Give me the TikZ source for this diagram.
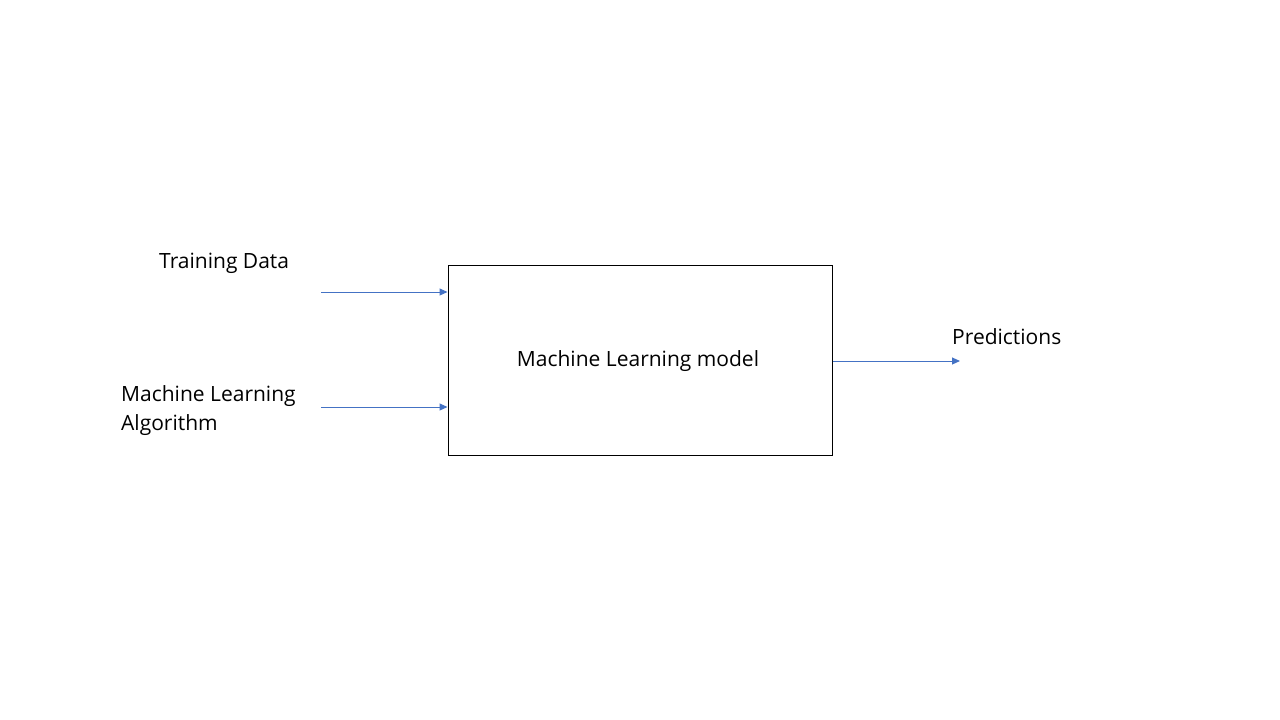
\documentclass[tikz,border=0pt]{standalone}
\usepackage{fontspec}
\setmainfont{Open Sans}
\usetikzlibrary{arrows.meta}
\definecolor{arrowblue}{HTML}{4472C4}
\tikzset{
  mlbox/.style={draw=black, line width=1pt, minimum width=384pt, minimum height=190pt, inner sep=0pt},
  lbl/.style={font=\fontsize{21}{29}\selectfont, inner sep=0pt, align=left},
  flow/.style={draw=arrowblue, line width=1pt, -{Triangle[length=8pt,width=7pt]}}
}
\begin{document}
\begin{tikzpicture}[x=1pt,y=-1pt]
\useasboundingbox (0,0) rectangle (1280,720);
\node[mlbox] (model) at (640,360) {};
\node[lbl] (modeltext) at (638,361) {Machine Learning model};
\node[lbl, anchor=west] (train) at (159,263) {Training Data};
\node[lbl, anchor=west] (algo) at (121,411) {Machine Learning\\Algorithm};
\node[lbl, anchor=west] (pred) at (952,337) {Predictions};
\coordinate (s1) at (321,292);
\coordinate (s2) at (321,407);
\coordinate (e3) at (960,361);
\draw[flow] (s1) -- (s1 -| model.west);
\draw[flow] (s2) -- (s2 -| model.west);
\draw[flow] (model.east |- e3) -- (e3);
\end{tikzpicture}
\end{document}
